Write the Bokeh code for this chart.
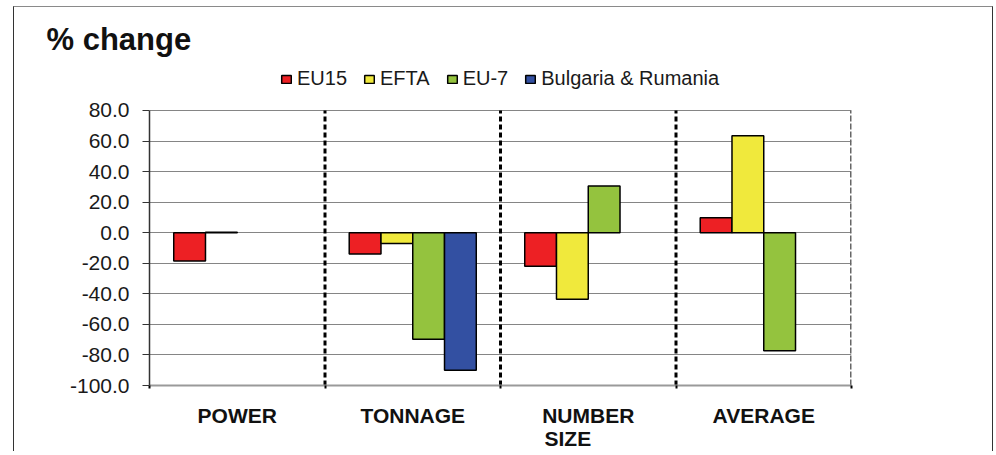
from bokeh.plotting import figure
from bokeh.models import (Range1d, FixedTicker, NumeralTickFormatter, Legend,
                          LegendItem, ColumnDataSource, LinearAxis)
from bokeh.embed import file_html
from bokeh.resources import INLINE

# ---------------- data ----------------
categories = ["POWER", "TONNAGE", "NUMBER\nSIZE", "AVERAGE"]
series_names = ["EU15", "EFTA", "EU-7", "Bulgaria & Rumania"]
eu15 = [-18.5, -14.0, -22.0, 9.8]
efta = [0.3, -7.0, -43.5, 63.5]
eu7 = [None, -69.8, 30.5, -77.2]
bul_rum = [None, -90.0, None, None]
y_ticks = [-100, -80, -60, -40, -20, 0, 20, 40, 60, 80]
title_text = "% change"

series_values = [eu15, efta, eu7, bul_rum]
colors = ["#ED2024", "#F0E93C", "#94C33E", "#3350A2"]

FONT = "Liberation Sans"
y_top_space = 109.45  # range top leaves room for the legend inside the frame

p = figure(width=980, height=445,
           x_range=Range1d(0, len(categories)),
           y_range=Range1d(y_ticks[0], y_top_space),
           output_backend="svg", toolbar_location=None,
           min_border_left=135, min_border_right=143,
           min_border_top=58, min_border_bottom=67)
p.styles = {"margin-left": "13px", "margin-top": "6px",
            "border-top": "1px solid #8a8a8a", "border-left": "1px solid #333",
            "border-right": "1px solid #333"}
p.outline_line_color = None

# title
p.title.text = title_text
p.title.align = "left"
p.title.offset = -103
p.title.standoff = 18
p.title.text_font = FONT
p.title.text_font_style = "bold"
p.title.text_font_size = "31px"
p.title.text_color = "#111111"

# grid
p.xgrid.visible = False
p.ygrid.ticker = FixedTicker(ticks=y_ticks)
p.ygrid.grid_line_color = "#858585"
p.ygrid.grid_line_width = 1

# y axis
yax = p.yaxis[0]
yax.ticker = FixedTicker(ticks=y_ticks)
yax.bounds = (y_ticks[0], y_ticks[-1])
yax.formatter = NumeralTickFormatter(format="0.0")
yax.major_label_text_font = FONT
yax.major_label_text_font_size = "21px"
yax.major_label_text_color = "#1a1a1a"
yax.major_tick_out = 7
yax.major_tick_in = 0
yax.minor_tick_line_color = None
yax.axis_line_color = "#333333"
yax.axis_line_width = 1.5
yax.major_tick_line_color = "#333333"
yax.major_label_standoff = 13

# x axis (category boundaries)
n = len(categories)
xax = p.xaxis[0]
xax.ticker = FixedTicker(ticks=list(range(n + 1)))
xax.major_label_overrides = {i: "" for i in range(n + 1)}
xax.major_label_text_font_size = "1px"
xax.major_label_standoff = 0
xax.axis_line_color = "#9a9a9a"
xax.axis_line_width = 2
xax.major_tick_line_color = "black"
xax.major_tick_line_width = 2
xax.major_tick_out = 3
xax.major_tick_in = 0
xax.minor_tick_line_color = None

# category names axis (lines of a multi-line name are left aligned with
# non-breaking space padding)
def _left_block(label):
    lines = label.split("\n")
    if len(lines) == 1:
        return label
    w = max(len(s) for s in lines)
    return "\n".join([lines[0]] + [s + "\u00a0" * int(round((w - len(s)) * 3.5))
                                   for s in lines[1:]])

centers = [k + 0.5 for k in range(n)]
cax = LinearAxis(ticker=FixedTicker(ticks=centers),
                 major_label_overrides={c: _left_block(cat)
                                        for c, cat in zip(centers, categories)},
                 axis_line_color=None, major_tick_line_color=None,
                 minor_tick_line_color=None, major_label_standoff=9,
                 major_label_text_font=FONT, major_label_text_font_style="bold",
                 major_label_text_font_size="21px",
                 major_label_text_line_height=1.0,
                 major_label_text_color="#111111")
p.add_layout(cax, "below")

# dashed separators
p.segment(x0=list(range(1, n)), y0=[y_ticks[0]] * (n - 1),
          x1=list(range(1, n)), y1=[y_ticks[-1]] * (n - 1),
          line_color="black", line_width=3, line_dash="5 3")
p.segment(x0=[n], y0=[y_ticks[0]], x1=[n], y1=[y_ticks[-1]],
          line_color="#666666", line_width=3, line_dash="6 2")

# bars
bw = 0.181
items = []
for i, (name, vals, col) in enumerate(zip(series_names, series_values, colors)):
    xs, tops = [], []
    for k, v in enumerate(vals):
        if v is None:
            continue
        xs.append(k + 0.5 + (i - 1.5) * bw)
        tops.append(v)
    src = ColumnDataSource(dict(x=xs, top=tops))
    r = p.vbar(x="x", top="top", bottom=0, width=bw, source=src,
               fill_color=col, line_color="black", line_width=1.5)
    items.append(LegendItem(label=name, renderers=[r]))

legend = Legend(items=items, orientation="horizontal", location=(131, 295),
                glyph_width=12, glyph_height=10, label_standoff=5, spacing=16,
                padding=0, margin=0, border_line_color=None,
                background_fill_alpha=0,
                label_text_font=FONT, label_text_font_size="20px",
                label_text_color="#1a1a1a")
p.add_layout(legend, "center")

open("out.html", "w").write(file_html(p, INLINE))
